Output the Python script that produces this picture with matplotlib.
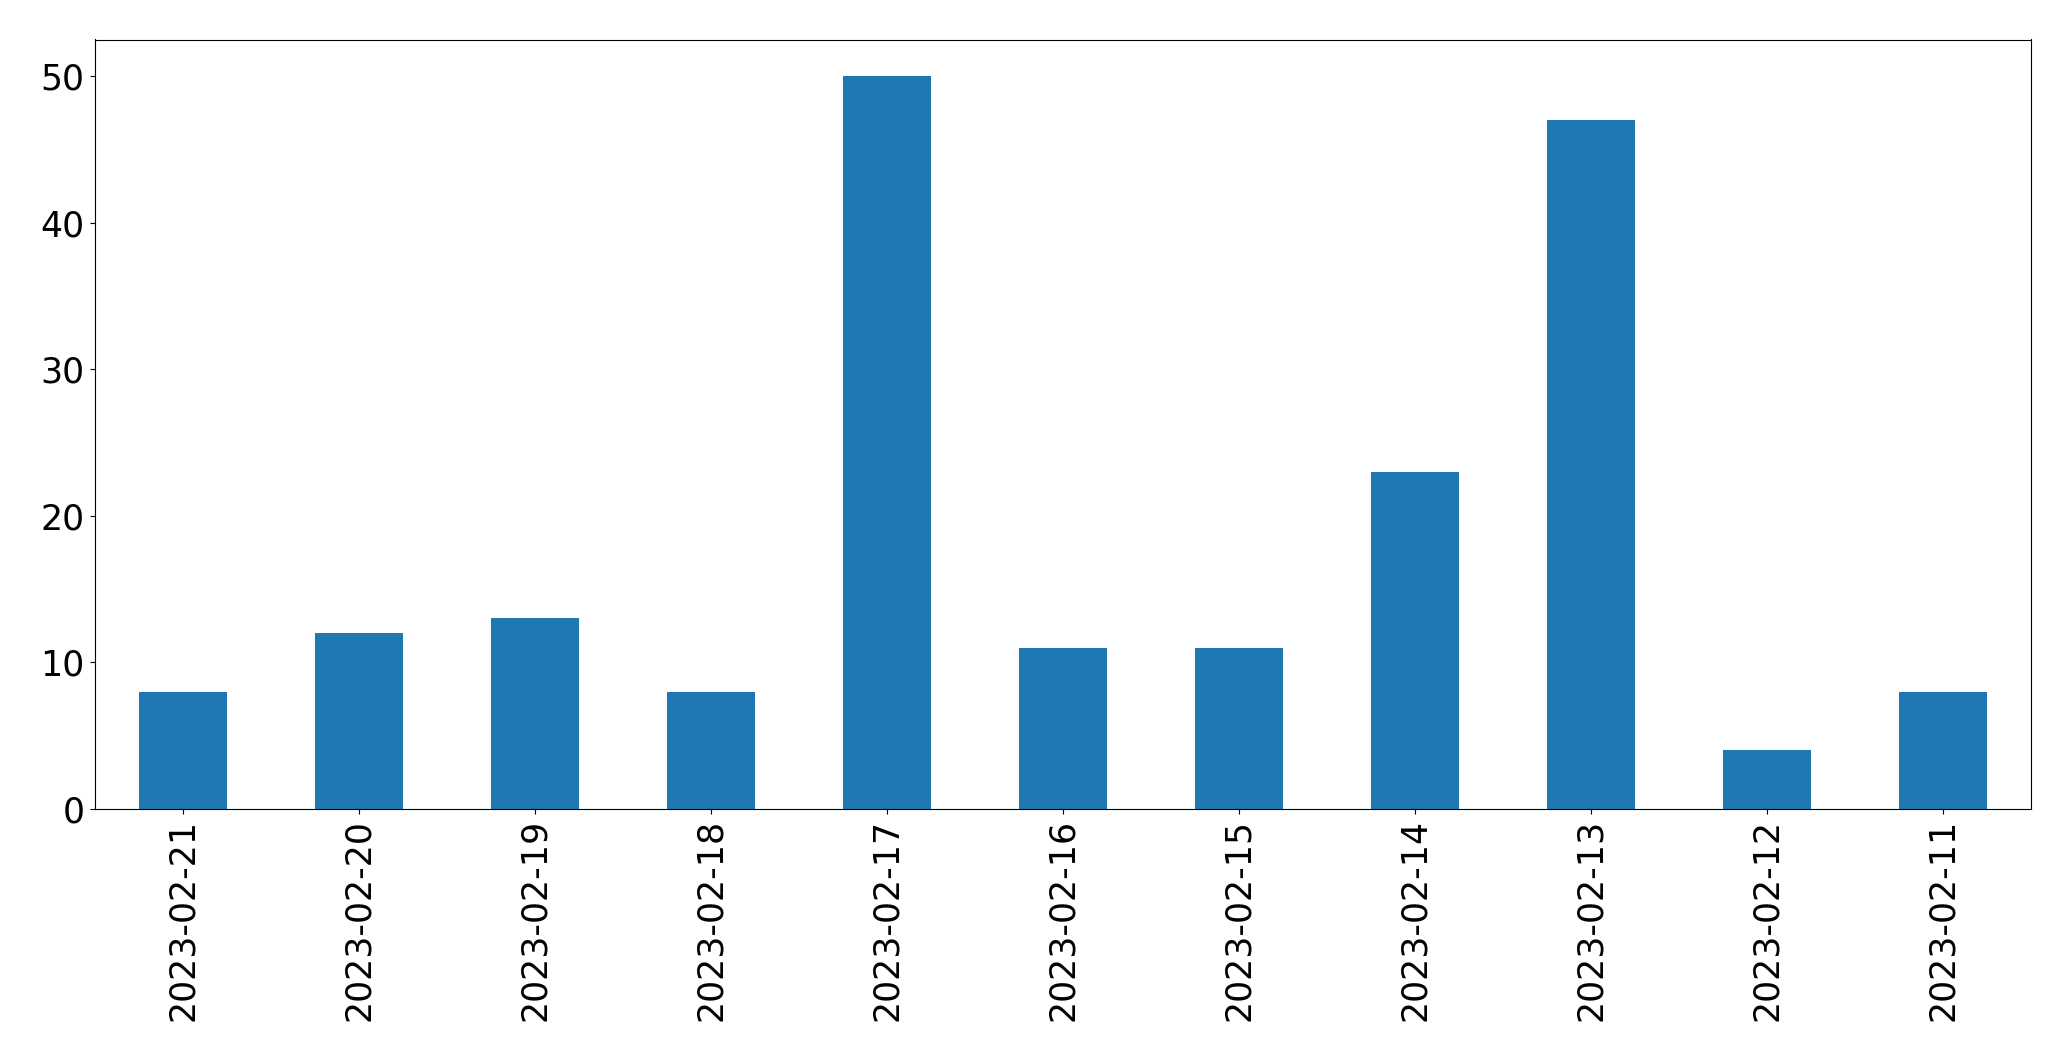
import numpy as np
import pandas as pd
import matplotlib
matplotlib.use("Agg")
import matplotlib.pyplot as plt

dates = ["2023-02-21", "2023-02-20", "2023-02-19", "2023-02-18", "2023-02-17",
         "2023-02-16", "2023-02-15", "2023-02-14", "2023-02-13", "2023-02-12",
         "2023-02-11"]
counts = [8, 12, 13, 8, 50, 11, 11, 23, 47, 4, 8]

s = pd.Series(counts, index=dates)

fig = plt.figure(figsize=(20.71, 10.61), dpi=100)
ax = fig.add_axes([94.5 / 2071, 1 - 809 / 1061, (2031 - 94.5) / 2071, (809 - 39.5) / 1061])
s.plot.bar(ax=ax, color="#1f77b4", fontsize=25)
ax.tick_params(axis="x", labelrotation=90)

fig.savefig("out.png", dpi=100)
